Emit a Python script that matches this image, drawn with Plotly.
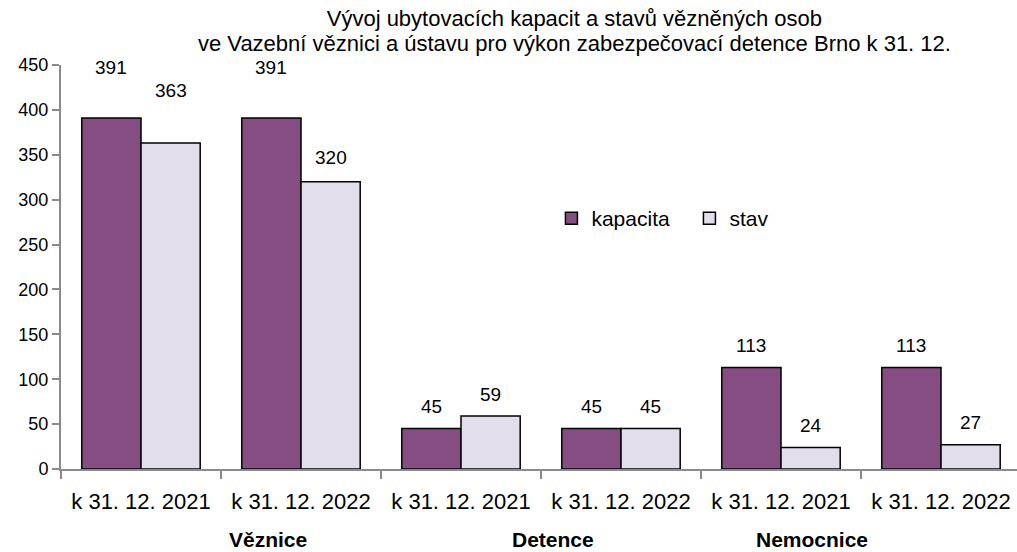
import plotly.graph_objects as go

groups = ["Věznice", "Detence", "Nemocnice"]
dates = ["k 31. 12. 2021", "k 31. 12. 2022", "k 31. 12. 2021", "k 31. 12. 2022", "k 31. 12. 2021", "k 31. 12. 2022"]
kapacita = [391, 391, 45, 45, 113, 113]
stav = [363, 320, 59, 45, 24, 27]
title_lines = ["Vývoj ubytovacích kapacit a stavů vězněných osob",
               "ve Vazební věznici a ústavu pro výkon zabezpečovací detence Brno k 31. 12."]
y_ticks = [0, 50, 100, 150, 200, 250, 300, 350, 400, 450]

# styling
FONT = "Liberation Sans Narrow, Arial Narrow, Liberation Sans, Arial"
C_KAP = "#854D82"
C_STAV = "#E3DEEB"
AXIS_C = "#8A8A8A"
BARGAP = 0.26
BAR_W = (1 - BARGAP) / 2
label_shift_kap = [50, 50, 22, 22, 22, 22]
label_shift_stav = [53, 24, 22, 22, 22, 22]
group_label_x = [0.794, 2.575, 4.194]

idx = list(range(len(dates)))

fig = go.Figure()
fig.add_trace(go.Bar(x=idx, y=kapacita, name="kapacita",
                     marker=dict(color=C_KAP, line=dict(color="black", width=1.5))))
fig.add_trace(go.Bar(x=idx, y=stav, name="stav",
                     marker=dict(color=C_STAV, line=dict(color="black", width=1.5))))

annotations = []
for i in idx:
    annotations.append(dict(x=i - BAR_W / 2, y=kapacita[i], xref="x", yref="y", text=str(kapacita[i]),
                            showarrow=False, yshift=label_shift_kap[i], yanchor="middle",
                            font=dict(size=19, family=FONT, color="black")))
    annotations.append(dict(x=i + BAR_W / 2, y=stav[i], xref="x", yref="y", text=str(stav[i]),
                            showarrow=False, yshift=label_shift_stav[i], yanchor="middle",
                            font=dict(size=19, family=FONT, color="black")))
for g, name in enumerate(groups):
    annotations.append(dict(x=group_label_x[g], y=0, xref="x", yref="paper", text="<b>%s</b>" % name,
                            showarrow=False, yshift=-70, yanchor="middle",
                            font=dict(size=21, family=FONT, color="black")))
# second title line
annotations.append(dict(x=0.537, y=1, xref="paper", yref="paper", text=title_lines[1],
                        showarrow=False, yshift=22, yanchor="middle", xanchor="center",
                        font=dict(size=22, family=FONT, color="black")))

fig.update_layout(
    width=1017, height=552,
    margin=dict(l=61, r=0, t=65, b=83),
    paper_bgcolor="white", plot_bgcolor="white",
    barmode="group", bargap=BARGAP, bargroupgap=0,
    font=dict(family=FONT, color="black", size=19),
    title=dict(text=title_lines[0], x=0.537, xref="paper", xanchor="center",
               y=1 - 18 / 552, yref="container", yanchor="middle",
               font=dict(size=22, family=FONT, color="black")),
    legend=dict(orientation="h", x=0.513, y=0.62, xanchor="left", yanchor="middle",
                font=dict(size=21, family=FONT, color="black"), bgcolor="rgba(0,0,0,0)",
                entrywidth=93, traceorder="normal"),
    annotations=annotations,
    showlegend=True,
)
fig.update_xaxes(range=[-0.5, 5.475], tickmode="array", tickvals=idx, ticktext=dates,
                 ticks="", showline=True, linecolor=AXIS_C, linewidth=2, showgrid=False,
                 zeroline=False, tickfont=dict(size=22, family=FONT, color="black"),
                 ticklabelstandoff=12,
                 minor=dict(tickmode="array", tickvals=[i - 0.5 for i in idx] + [len(idx) - 0.5],
                            ticks="outside", ticklen=8, tickcolor=AXIS_C, tickwidth=2, showgrid=False))
fig.update_yaxes(range=[0, 450], tickmode="array", tickvals=y_ticks, ticks="outside",
                 ticklen=7, tickcolor=AXIS_C, tickwidth=2, showline=True, linecolor=AXIS_C,
                 linewidth=2, showgrid=False, zeroline=False,
                 tickfont=dict(size=18, family=FONT, color="black"))

fig.write_html("out.html", config={"displayModeBar": False},
               post_script="document.body.style.margin='0';document.body.style.overflow='hidden';")
